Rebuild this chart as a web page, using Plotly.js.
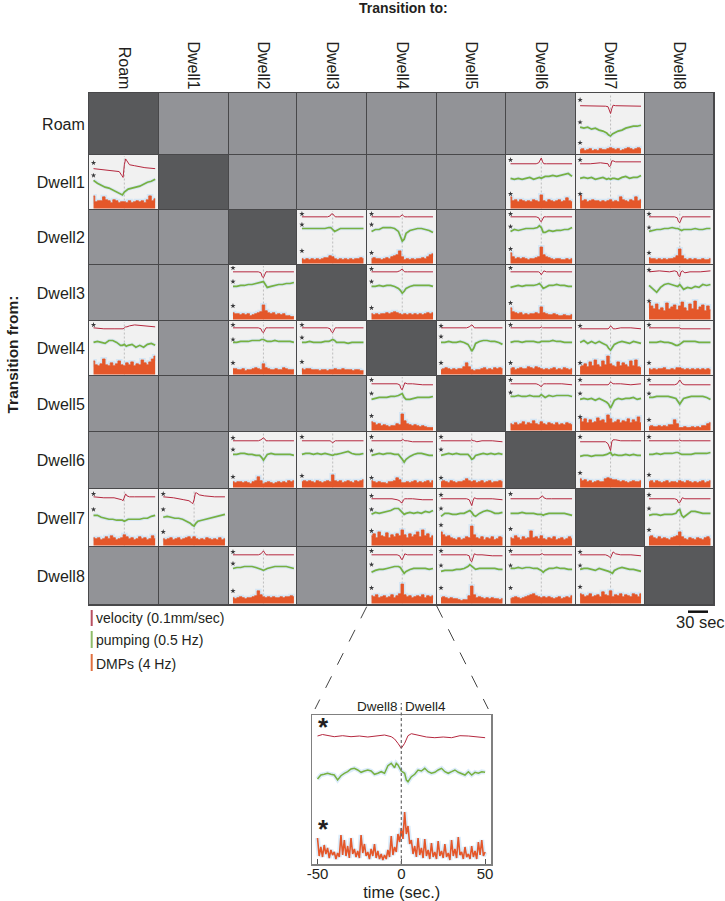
<!DOCTYPE html>
<html><head><meta charset="utf-8">
<script src="https://cdn.plot.ly/plotly-3.0.1.min.js"></script>
<style>html,body{margin:0;padding:0;background:#fff}</style></head>
<body><div id="chart" style="width:725px;height:901px"></div>
<script>
const states=["Roam","Dwell1","Dwell2","Dwell3","Dwell4","Dwell5","Dwell6","Dwell7","Dwell8"];
// cell kind: 0 no transition, 1 self, 2 transition with averaged traces
const cellKind=[
[1,0,0,0,0,0,0,2,0],
[2,1,0,0,0,0,2,2,0],
[0,0,1,2,2,0,2,0,2],
[0,0,2,1,2,0,2,0,2],
[2,0,2,2,1,2,2,2,2],
[0,0,0,0,2,1,2,2,2],
[0,0,2,2,2,2,1,2,2],
[2,2,0,0,2,2,2,1,2],
[0,0,2,0,2,2,2,2,1]];
const velT=[-48,-32,-16,-8,-4,-2,0,2,4,8,16,32,48];
const pumpT=[-48,-42,-36,-30,-24,-18,-12,-6,-3,0,3,6,12,18,24,30,36,42,48];
const dmpT=[-48,-44,-40,-36,-32,-28,-24,-20,-16,-12,-8,-4,0,4,8,12,16,20,24,28,32,36,40,44,48];

const v_0_7=[49,49,49,48.5,48,45,41,46,49.5,49,49,49,48.5];
const p_0_7=[27,26,27,25,26,24,23,21,19,18,20,21,23,24,26,27,28,28,29];
const d_0_7=[4,5,3,4,5,3,4,3,5,4,4,5,6,5,4,5,3,4,5,6,5,4,5,6,5];
const s_0_7=[55,32,11];
const v_1_0=[41,40,39,38,34,32,45,51,49,45,44,42,41];
const p_1_0=[29,26,24,22,21,19,17,15,14,17,19,20,21,22,23,25,27,28,30];
const d_1_0=[13,7,8,8,12,9,8,6,9,8,6,7,7,6,8,6,7,8,7,8,6,9,13,8,10];
const s_1_0=[47,34];
const v_1_6=[46,46,46,46,47,50,52,48,46,46,46,46,46];
const p_1_6=[31,30,31,30,31,32,30,31,32,31,32,33,33,34,33,34,35,36,33];
const d_1_6=[12,8,9,7,9,8,7,8,7,9,8,7,14,8,7,9,8,7,8,9,7,8,11,8,7];
const s_1_6=[50,15];
const v_1_7=[46,46,47,46,46,43,44,49,49,48,48,48,48];
const p_1_7=[31,32,31,32,30,31,32,30,31,30,31,31,30,32,33,31,32,32,34];
const d_1_7=[14,8,9,7,8,9,8,8,7,8,7,8,9,7,8,7,12,9,8,7,9,8,12,8,9];
const s_1_7=[50,15];
const v_2_3=[48,48,48,48,49,51,51,49,48,48,48,48,48];
const p_2_3=[36,36,36,36,36,36,36,37,37,35,33,34,36,36,36,36,36,36,36];
const d_2_3=[5,4,5,4,5,4,5,4,5,6,6,8,7,5,4,5,4,5,4,5,4,5,5,6,5];
const s_2_3=[51,40,13];
const v_2_4=[48,48,48,48,48,49,50,49,48,48,48,48,48];
const p_2_4=[33,35,35,37,37,37,36,33,28,23,25,31,34,35,36,36,35,34,32];
const d_2_4=[5,6,5,5,4,5,6,5,7,8,9,13,7,4,5,4,5,4,5,5,6,5,7,9,10];
const s_2_4=[51,40,11];
const v_2_6=[48,48,48,48,47,44,43,46,48,48,48,48,48];
const p_2_6=[33,35,34,35,36,36,36,37,39,37,32,32,34,33,34,34,35,35,37];
const d_2_6=[11,7,5,6,5,6,5,4,5,5,6,7,17,9,7,6,5,4,5,5,4,4,5,4,5];
const s_2_6=[51,38,15];
const v_2_8=[48,48,48,48,47,43,42,46,48,48,48,48,48];
const p_2_8=[33,34,35,35,36,36,37,36,36,35,34,35,35,35,36,35,35,36,36];
const d_2_8=[6,5,5,4,5,4,5,4,5,5,6,8,15,8,5,4,5,4,5,4,4,5,4,4,5];
const s_2_8=[51,37,11];
const v_3_2=[49,49,49,49,48,44,43,46,49,49,49,49,49];
const p_3_2=[34,34,35,35,36,36,37,38,38,39,36,33,34,35,36,36,37,37,38];
const d_3_2=[7,6,6,5,6,5,6,4,5,6,7,8,15,9,7,6,7,5,6,5,6,4,4,3,3];
const s_3_2=[53,39,14];
const v_3_4=[49,49,49,49,50,51,52,50,49,49,49,49,49];
const p_3_4=[34,34,35,34,35,35,34,32,30,27,29,32,34,35,35,35,35,35,34];
const d_3_4=[6,5,6,5,6,6,7,6,7,8,7,6,5,6,5,6,5,6,5,6,5,6,7,6,7];
const s_3_4=[52,39,12];
const v_3_6=[49,49,49,49,49,48,46,48,50,49,49,49,49];
const p_3_6=[33,34,35,34,35,35,35,36,37,35,32,33,35,35,36,35,35,34,34];
const d_3_6=[12,8,7,6,7,5,6,5,6,6,7,6,13,7,6,5,5,6,5,4,4,5,4,4,5];
const s_3_6=[53,17];
const v_3_8=[49,50,49,50,49,45,44,49,50,48,49,49,50];
const p_3_8=[35,31,28,33,36,37,36,35,34,36,33,31,33,32,34,33,36,35,36];
const d_3_8=[18,14,11,16,10,12,9,17,11,13,15,10,14,18,12,9,16,11,19,10,13,15,9,14,10];
const s_3_8=[51,19];
const v_4_0=[48,47,47,47,47,47,48,49,49,50,51,50,49];
const p_4_0=[33,34,33,32,35,35,33,30,30,31,29,30,31,28,30,28,31,32,30];
const d_4_0=[14,10,9,11,16,10,9,12,9,11,14,10,9,12,10,13,9,11,10,15,12,10,13,16,19];
const s_4_0=[51];
const v_4_2=[48,48,48,48,47,44,43,46,48,48,48,48,48];
const p_4_2=[33,33,34,34,34,35,35,35,36,36,35,34,34,35,34,34,34,34,33];
const d_4_2=[6,6,5,5,6,4,5,5,6,7,6,5,11,7,6,5,5,6,5,5,7,6,5,5,5];
const s_4_2=[51,36,12];
const v_4_3=[48,48,48,48,47,44,43,46,48,48,48,48,48];
const p_4_3=[33,33,34,33,33,33,34,34,35,36,35,33,33,33,32,33,33,33,33];
const d_4_3=[6,5,6,6,5,5,5,4,5,5,4,5,5,6,5,5,6,5,5,5,4,5,5,4,4];
const s_4_3=[51,38,13];
const v_4_5=[48,48,48,48,49,50,51,50,48,48,48,48,48];
const p_4_5=[33,33,34,33,33,34,33,31,28,24,27,32,34,35,35,34,34,33,31];
const d_4_5=[5,6,7,6,5,6,5,6,6,8,12,8,5,4,5,5,6,7,5,6,5,7,6,7,6];
const s_4_5=[50,39,12];
const v_4_6=[48,48,48,48,48,48,49,48,48,48,48,48,48];
const p_4_6=[33,34,34,33,34,34,34,33,33,34,34,34,34,35,34,34,33,33,33];
const d_4_6=[6,7,5,6,7,6,6,8,7,6,8,7,6,5,6,5,6,7,5,6,5,7,6,5,6];
const s_4_6=[51,12];
const v_4_7=[47,47,47,47,47,48,50,49,47,47,48,48,47];
const p_4_7=[33,35,32,34,32,34,32,30,27,25,28,31,33,34,33,32,34,33,32];
const d_4_7=[8,9,11,8,13,9,15,10,8,14,10,19,11,9,8,13,9,12,10,8,14,9,15,8,7];
const s_4_7=[50,12];
const v_4_8=[48,48,48,48,48,48,48,47,47,47,47,47,47];
const p_4_8=[33,33,33,34,33,33,32,30,30,31,33,34,34,34,34,33,33,33,33];
const d_4_8=[6,5,6,5,6,6,7,5,5,6,5,7,7,6,5,6,5,6,5,6,5,6,5,6,5];
const s_4_8=[51,12];
const v_5_4=[48,48,48,48,47,43,42,46,49,48,48,47,47];
const p_5_4=[32,33,34,34,34,35,35,36,37,38,34,32,32,33,34,34,34,34,35];
const d_5_4=[9,8,6,7,5,6,5,4,5,5,7,6,17,10,7,6,5,6,5,4,5,4,3,3,3];
const s_5_4=[52,38,15];
const v_5_6=[48,48,48,48,47,46,45,47,48,48,48,48,47];
const p_5_6=[35,35,36,35,35,36,35,35,35,37,35,34,36,35,36,36,36,36,35];
const d_5_6=[7,6,8,6,7,9,6,8,7,10,7,6,9,7,6,8,7,6,8,6,7,6,8,7,6];
const s_5_6=[52,39];
const v_5_7=[47,47,47,47,47,48,50,49,48,48,48,47,48];
const p_5_7=[32,33,32,33,31,33,31,29,27,23,27,31,33,32,33,33,34,32,33];
const d_5_7=[13,9,12,8,11,8,9,13,10,11,8,16,12,8,9,11,8,10,9,12,8,11,9,14,8];
const s_5_7=[52,38,14];
const v_5_8=[47,47,47,47,48,50,52,50,48,47,47,47,47];
const p_5_8=[34,34,35,35,35,35,34,33,30,27,30,33,34,35,35,35,35,34,32];
const d_5_8=[4,5,4,4,5,4,5,4,6,6,11,7,3,3,4,3,3,4,3,4,3,5,5,7,8];
const s_5_8=[52,38,11];
const v_6_2=[48,48,48,48,49,50,51,50,48,48,48,48,48];
const p_6_2=[34,34,35,35,34,34,33,33,31,28,31,34,35,34,34,34,34,34,33];
const d_6_2=[6,5,6,6,5,6,5,4,6,7,11,7,4,5,6,5,4,5,6,5,6,5,7,6,7];
const s_6_2=[51,39,11];
const v_6_3=[48,48,48,48,48,47,46,47,48,48,48,48,48];
const p_6_3=[34,35,35,34,35,34,35,34,34,33,34,34,35,36,37,35,34,34,35];
const d_6_3=[6,7,6,7,6,5,7,6,5,6,7,6,13,7,6,7,5,6,7,6,5,7,6,7,8];
const s_6_3=[52,12];
const v_6_4=[48,48,48,48,48,48,49,49,48,48,47,47,47];
const p_6_4=[33,34,35,34,35,35,34,34,32,29,26,29,32,34,35,35,34,33,33];
const d_6_4=[7,6,5,6,5,5,4,6,6,7,10,8,5,5,6,5,6,7,5,6,5,6,7,5,7];
const s_6_4=[52,38,10];
const v_6_5=[48,48,48,48,48,48,49,48,48,47,48,48,47];
const p_6_5=[33,34,35,34,35,34,34,34,32,29,30,33,34,35,34,35,34,35,34];
const d_6_5=[6,7,6,5,7,6,5,6,6,7,9,7,6,7,5,6,7,5,6,7,5,6,6,7,6];
const s_6_5=[52,39,10];
const v_6_7=[47,47,47,47,45,40,38,47,49,49,48,48,48];
const p_6_7=[32,33,33,32,33,33,33,34,35,36,33,34,33,33,34,33,34,33,33];
const d_6_7=[9,7,8,6,7,5,6,7,6,6,9,10,9,8,8,7,6,7,6,5,6,7,6,6,7];
const s_6_7=[52,15];
const v_6_8=[48,48,48,48,48,48,49,48,48,48,48,48,48];
const p_6_8=[34,34,35,34,35,35,35,36,36,35,34,34,34,34,35,35,35,35,36];
const d_6_8=[6,7,5,7,6,5,6,7,5,6,6,5,7,6,5,7,6,5,6,5,6,7,5,6,7];
const s_6_8=[52,13];
const v_7_0=[50,49,49,48,47,46,50,53,51,50,50,50,50];
const p_7_0=[31,31,29,28,27,27,26,26,26,25,26,27,27,27,27,28,28,30,31];
const d_7_0=[8,7,8,6,7,9,7,10,8,6,7,8,11,9,7,8,6,7,9,7,8,6,7,10,7];
const s_7_0=[53,37];
const v_7_1=[50,49,47,46,44,43,47,54,54,52,51,50,50];
const p_7_1=[29,30,29,28,28,27,25,23,21,20,23,25,26,27,28,29,30,31,32];
const d_7_1=[7,6,7,8,6,7,8,6,7,8,9,7,9,7,6,7,6,8,7,6,7,6,8,6,7];
const s_7_1=[53,37,14];
const v_7_4=[48,48,48,47,46,44,44,47,48,48,48,47,47];
const p_7_4=[32,34,33,34,35,36,38,38,36,34,32,33,34,33,34,33,35,34,36];
const d_7_4=[10,12,8,14,10,9,13,8,11,9,12,10,16,11,8,12,9,11,14,9,16,10,12,8,10];
const s_7_4=[51,37,15];
const v_7_5=[48,48,48,48,47,43,41,46,49,48,48,48,47];
const p_7_5=[30,33,33,32,32,33,33,35,36,34,31,30,33,35,36,35,33,33,34];
const d_7_5=[14,11,9,10,8,7,6,8,6,7,9,8,20,11,8,7,9,6,8,7,9,6,7,9,8];
const s_7_5=[52,38,21];
const v_7_6=[48,48,48,48,48,49,50,51,49,48,48,48,48];
const p_7_6=[33,33,33,34,33,33,33,32,32,32,31,32,33,33,33,33,33,32,31];
const d_7_6=[8,7,10,8,6,9,7,8,15,8,9,7,10,7,6,8,7,9,6,7,8,6,7,9,7];
const s_7_6=[53,17];
const v_7_8=[48,48,48,48,47,44,44,47,49,48,48,48,48];
const p_7_8=[31,32,32,31,32,32,32,33,36,37,31,29,32,35,35,34,33,33,33];
const d_7_8=[9,10,8,7,9,7,8,7,6,8,9,10,14,9,7,6,8,7,6,8,7,6,8,9,7];
const s_7_8=[52,38,16];
const v_8_2=[50,50,50,50,51,53,54,52,50,50,50,50,50];
const p_8_2=[36,37,37,38,38,38,37,36,35,34,35,36,37,38,38,38,38,37,36];
const d_8_2=[6,5,6,7,6,5,6,6,7,8,13,9,7,6,7,6,7,6,6,7,6,7,7,8,7];
const s_8_2=[53,41,13];
const v_8_4=[50,50,50,50,49,46,45,48,51,50,50,50,50];
const p_8_4=[32,34,35,35,36,37,38,38,37,34,31,33,35,36,36,36,36,35,36];
const d_8_4=[8,7,9,6,7,8,6,7,9,6,8,10,20,9,7,8,6,7,8,7,9,6,8,7,8];
const s_8_4=[54,40,16];
const v_8_5=[50,50,50,50,49,44,43,47,51,50,50,49,49];
const p_8_5=[33,34,34,34,35,35,36,38,40,38,36,35,36,36,36,36,36,35,35];
const d_8_5=[6,7,6,5,6,5,5,4,3,4,4,8,18,9,6,7,6,5,6,5,6,5,5,4,5];
const s_8_5=[54,39,16];
const v_8_6=[50,50,50,50,50,50,51,51,50,50,50,50,50];
const p_8_6=[36,36,37,36,37,37,36,36,35,34,32,34,36,36,37,36,36,35,35];
const d_8_6=[5,6,7,6,5,6,7,8,9,10,8,7,6,7,6,7,6,5,6,7,5,6,7,6,8];
const s_8_6=[54,39,16];
const v_8_7=[50,50,50,50,49,48,47,50,53,51,50,50,49];
const p_8_7=[35,36,36,35,34,36,35,34,33,32,31,34,36,37,36,35,35,34,33];
const d_8_7=[10,9,7,8,10,7,8,9,7,12,9,8,13,7,9,8,10,7,9,8,7,10,9,7,10];
const s_8_7=[53,39,17];

const panels=[
[0,7,v_0_7,p_0_7,d_0_7,s_0_7],
[1,0,v_1_0,p_1_0,d_1_0,s_1_0],[1,6,v_1_6,p_1_6,d_1_6,s_1_6],[1,7,v_1_7,p_1_7,d_1_7,s_1_7],
[2,3,v_2_3,p_2_3,d_2_3,s_2_3],[2,4,v_2_4,p_2_4,d_2_4,s_2_4],[2,6,v_2_6,p_2_6,d_2_6,s_2_6],[2,8,v_2_8,p_2_8,d_2_8,s_2_8],
[3,2,v_3_2,p_3_2,d_3_2,s_3_2],[3,4,v_3_4,p_3_4,d_3_4,s_3_4],[3,6,v_3_6,p_3_6,d_3_6,s_3_6],[3,8,v_3_8,p_3_8,d_3_8,s_3_8],
[4,0,v_4_0,p_4_0,d_4_0,s_4_0],[4,2,v_4_2,p_4_2,d_4_2,s_4_2],[4,3,v_4_3,p_4_3,d_4_3,s_4_3],[4,5,v_4_5,p_4_5,d_4_5,s_4_5],[4,6,v_4_6,p_4_6,d_4_6,s_4_6],[4,7,v_4_7,p_4_7,d_4_7,s_4_7],[4,8,v_4_8,p_4_8,d_4_8,s_4_8],
[5,4,v_5_4,p_5_4,d_5_4,s_5_4],[5,6,v_5_6,p_5_6,d_5_6,s_5_6],[5,7,v_5_7,p_5_7,d_5_7,s_5_7],[5,8,v_5_8,p_5_8,d_5_8,s_5_8],
[6,2,v_6_2,p_6_2,d_6_2,s_6_2],[6,3,v_6_3,p_6_3,d_6_3,s_6_3],[6,4,v_6_4,p_6_4,d_6_4,s_6_4],[6,5,v_6_5,p_6_5,d_6_5,s_6_5],[6,7,v_6_7,p_6_7,d_6_7,s_6_7],[6,8,v_6_8,p_6_8,d_6_8,s_6_8],
[7,0,v_7_0,p_7_0,d_7_0,s_7_0],[7,1,v_7_1,p_7_1,d_7_1,s_7_1],[7,4,v_7_4,p_7_4,d_7_4,s_7_4],[7,5,v_7_5,p_7_5,d_7_5,s_7_5],[7,6,v_7_6,p_7_6,d_7_6,s_7_6],[7,8,v_7_8,p_7_8,d_7_8,s_7_8],
[8,2,v_8_2,p_8_2,d_8_2,s_8_2],[8,4,v_8_4,p_8_4,d_8_4,s_8_4],[8,5,v_8_5,p_8_5,d_8_5,s_8_5],[8,6,v_8_6,p_8_6,d_8_6,s_8_6],[8,7,v_8_7,p_8_7,d_8_7,s_8_7]];

// enlarged example Dwell8 -> Dwell4
const insetVelT=[-50,-47,-40,-35,-30,-25,-20,-15,-10,-6,-4,-2,0,2,4,6,8,10,15,20,25,30,35,40,45,50];
const insetVel=[128,129.5,127.3,128.3,127.3,128,127,127.7,129,127.3,125,120.7,115.7,120.7,128.3,130.3,129.7,129,127,126.3,127,126.3,128.3,128,127.3,126.3];
const insetPumpT=[-50,-48,-46,-44,-42,-40,-38,-36,-34,-32,-30,-28,-26,-24,-22,-20,-18,-16,-14,-12,-10,-8,-6,-4,-3,-2,0,2,3,4,6,8,10,12,14,16,18,20,22,24,26,28,30,32,34,36,38,40,42,44,46,48,50];
const insetPump=[85,89,89.7,90.7,89.7,89,84,88.3,90.7,92.3,95,95.7,94,91.7,93,94,93,89.7,90.7,92.3,90.7,98.3,100.7,96.3,100.7,99,93,90.7,84,82.3,87.3,89.7,94,93,95.7,92.3,90.7,91.7,94,95.7,92.3,90.7,92.3,94,91.7,90.7,89,92.3,89,91.7,90.7,92.3,91.7];
const insetDmp=[26,8,17,7,19,10,16,6,14,9,
12,5,11,7,29,9,24,8,18,6,
26,10,15,7,13,6,29,11,20,8,
12,5,15,8,20,6,13,5,10,4,
9,5,14,7,28,9,17,12,30,22,
36,25,52,30,38,20,24,10,18,7,
26,9,16,6,25,8,14,5,21,7,
12,5,23,8,13,6,20,7,11,4,
24,8,15,6,27,9,12,5,17,7,
10,5,18,7,13,5,22,9,24,8,12];
const insetDmpT=insetDmp.map((_,i)=>i-50);
const insetTicks=[-50,0,50];
const insetTickText=["-50","0","50"];
const legendLabels=["velocity (0.1mm/sec)","pumping (0.5 Hz)","DMPs (4 Hz)"];

// ---- layout geometry (page pixels) ----
const W=725,H=901;
const colEdges=[89,158.7,228.5,297.4,367,436.5,506,575.6,644.5,714];
const rowEdges=[93,155,210,265,321,376,432,489,547,605];
const px=x=>x/W, py=y=>1-y/H;
const RED="#b5283f",GREEN="#78b041",ORANGE="#e4572a",BAND="rgba(190,220,245,0.55)",INK="#231f20",GRID="#48484a";
const FONT="Liberation Sans, Arial, sans-serif";

const traces=[{
  type:"heatmap",x:colEdges,y:rowEdges,z:cellKind,xgap:1,ygap:1,showscale:false,hoverinfo:"skip",
  zmin:0,zmax:2,colorscale:[[0,"#929397"],[0.5,"#58595b"],[1,"#f1f1f1"]],xaxis:"x",yaxis:"y"
}];
const layout={
  width:W,height:H,margin:{l:0,r:0,t:0,b:0},paper_bgcolor:"#fff",plot_bgcolor:"rgba(0,0,0,0)",showlegend:false,hovermode:false,
  font:{family:FONT,color:INK},
  xaxis:{domain:[px(89),px(714)],range:[89,714],side:"top",tickmode:"array",
    tickvals:states.map((_,i)=>(colEdges[i]+colEdges[i+1])/2),ticktext:states,tickangle:90,ticklabelstandoff:-3,
    tickfont:{size:16,color:INK},ticks:"",showgrid:false,zeroline:false,showline:true,linecolor:GRID,mirror:true,anchor:"y"},
  yaxis:{domain:[py(605),py(93)],range:[605,93],tickmode:"array",
    tickvals:states.map((_,i)=>(rowEdges[i]+rowEdges[i+1])/2),ticktext:states,
    tickfont:{size:16,color:INK},ticks:"",showgrid:false,zeroline:false,showline:true,linecolor:GRID,mirror:true,anchor:"x"},
  shapes:[{type:"rect",layer:"below",xref:"x",yref:"y",x0:89,x1:714,y0:93,y1:605,fillcolor:GRID,line:{width:0}}],annotations:[]
};

let n=2;
panels.forEach(([r,c,v,p,d,s])=>{
  const xa="x"+n,ya="y"+n,hh=rowEdges[r+1]-rowEdges[r];
  layout["xaxis"+n]={domain:[px(colEdges[c]+1),px(colEdges[c+1])],range:[-53.5,53.5],visible:false,anchor:ya};
  layout["yaxis"+n]={domain:[py(rowEdges[r+1]),py(rowEdges[r]+1)],range:[-1.5,hh-1],visible:false,anchor:xa};
  const common={type:"scatter",mode:"lines",xaxis:xa,yaxis:ya,hoverinfo:"skip",cliponaxis:true};
  traces.push({...common,x:[0,0],y:[0,hh],line:{color:"#a8a8a8",width:0.7,dash:"2px,2px"}});
  traces.push({...common,x:dmpT,y:d,line:{color:BAND,width:4,shape:"hvh"}});
  traces.push({...common,x:dmpT,y:d,fill:"tozeroy",fillcolor:ORANGE,line:{color:ORANGE,width:0.8,shape:"hvh"}});
  traces.push({...common,x:pumpT,y:p,line:{color:BAND,width:3.5}});
  traces.push({...common,x:pumpT,y:p,line:{color:GREEN,width:1.7}});
  traces.push({...common,x:velT,y:v,line:{color:RED,width:1}});
  traces.push({type:"scatter",mode:"markers",xaxis:xa,yaxis:ya,hoverinfo:"skip",x:s.map(()=>-48),y:s,
    marker:{symbol:"star",size:4,color:"#3a3a3c"}});
  n++;
});

// inset
const ix="x"+n,iy="y"+n;
layout["xaxis"+n]={domain:[px(312.3),px(491.3)],range:[-53.1,53.7],anchor:iy,tickmode:"array",tickvals:insetTicks,ticktext:insetTickText,
  ticks:"inside",ticklen:5,tickcolor:"#555",tickwidth:1,showgrid:false,zeroline:false,showline:true,mirror:true,linecolor:"#808080",linewidth:1.5,
  ticklabelstandoff:-5,tickfont:{size:15,color:INK},title:{text:"time (sec.)",font:{size:16.5,color:INK},standoff:8}};
layout["yaxis"+n]={domain:[py(864),py(715)],range:[0,149],anchor:ix,showticklabels:false,ticks:"",showgrid:false,zeroline:false,showline:true,mirror:true,linecolor:"#808080",linewidth:1.5};
const ic={type:"scatter",mode:"lines",xaxis:ix,yaxis:iy,hoverinfo:"skip"};
traces.push({...ic,x:insetDmpT,y:insetDmp,line:{color:BAND,width:5}});
traces.push({...ic,x:insetDmpT,y:insetDmp,line:{color:ORANGE,width:1.6}});
traces.push({...ic,x:insetPumpT,y:insetPump,line:{color:BAND,width:4.5}});
traces.push({...ic,x:insetPumpT,y:insetPump,line:{color:GREEN,width:1.5}});
traces.push({...ic,x:insetVelT,y:insetVel,line:{color:RED,width:1}});

// connector lines, dashed divider, scale bar, legend bars
layout.shapes.push(
 {type:"line",xref:"paper",yref:"paper",x0:px(366.7),y0:py(606.7),x1:px(315),y1:py(709),line:{color:"#444",width:1,dash:"13px,13px"}},
 {type:"line",xref:"paper",yref:"paper",x0:px(436.7),y0:py(606),x1:px(488.3),y1:py(709),line:{color:"#444",width:1,dash:"13px,13px"}},
 {type:"line",xref:ix,yref:"paper",x0:0,x1:0,y0:py(864),y1:py(703),line:{color:"#666",width:1.2,dash:"3px,2.5px"}},
 {type:"line",xref:"paper",yref:"paper",x0:px(688),x1:px(708),y0:py(611.7),y1:py(611.7),line:{color:"#111",width:2.5}},
 {type:"line",xref:"paper",yref:"paper",x0:px(91.7),x1:px(91.7),y0:py(610),y1:py(626),line:{color:"#b85060",width:2}},
 {type:"line",xref:"paper",yref:"paper",x0:px(91.7),x1:px(91.7),y0:py(631),y1:py(648),line:{color:"#8fbc6a",width:2}},
 {type:"line",xref:"paper",yref:"paper",x0:px(91.7),x1:px(91.7),y0:py(654),y1:py(671),line:{color:"#e0703f",width:2}}
);
const note=(text,x,y,size,opt={})=>layout.annotations.push({text,xref:"paper",yref:"paper",x:px(x),y:py(y),showarrow:false,
  xanchor:opt.xa||"left",yanchor:"middle",font:{size,color:INK,family:FONT},textangle:opt.rot||0,borderpad:0});
note("<b>Transition to:</b>",404,8,14,{xa:"center"});
note("<b>Transition from:</b>",11.5,355,15.5,{xa:"center",rot:-90});
note(legendLabels[0],95,618,14);
note(legendLabels[1],95,640,14);
note(legendLabels[2],95,664,14);
note("30 sec",700.5,622,16.5,{xa:"center"});
note("Dwell8",399,706,13.5,{xa:"right"});
note("Dwell4",403.5,706,13.5,{xa:"left"});
note("<b>*</b>",323,727,26,{xa:"center"});
note("<b>*</b>",323,829,26,{xa:"center"});

Plotly.newPlot("chart",traces,layout,{displayModeBar:false,staticPlot:true});
</script></body></html>
